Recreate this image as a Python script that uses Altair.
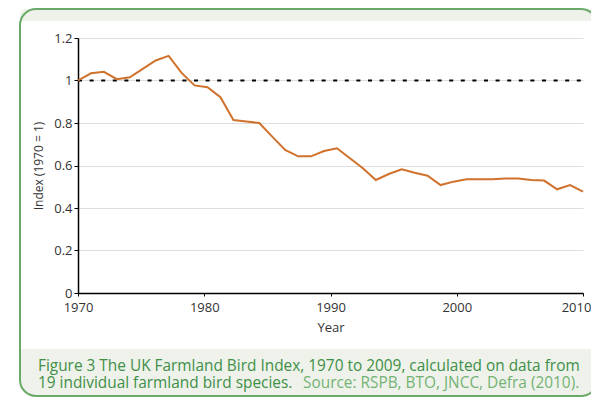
import altair as alt
import pandas as pd

years = list(range(1970, 2010))
index_values = [1.000, 1.034, 1.041, 1.006, 1.015, 1.055, 1.094, 1.116, 1.036, 0.977,
                0.968, 0.921, 0.814, 0.807, 0.800, 0.736, 0.673, 0.643, 0.643, 0.668,
                0.681, 0.634, 0.587, 0.532, 0.560, 0.582, 0.566, 0.552, 0.508, 0.524,
                0.535, 0.535, 0.535, 0.539, 0.539, 0.532, 0.529, 0.488, 0.508, 0.477]
axis_years = [1970, 2010]
baseline = [1.0, 1.0]
y_ticks = [0, 0.2, 0.4, 0.6, 0.8, 1.0, 1.2]
x_ticks = [1970, 1980, 1990, 2000, 2010]

caption_1 = "Figure 3 The UK Farmland Bird Index, 1970 to 2009, calculated on data from"
caption_2a = "19 individual farmland bird species."
caption_2b = "Source: RSPB, BTO, JNCC, Defra (2010)."

FONT = "Open Sans"
GREEN = "#6aa968"
BAND = "#eef2eb"
ORANGE = "#d0712c"

series = pd.DataFrame({"Year": years, "Index": index_values})
ref = pd.DataFrame({"Year": axis_years, "Index": baseline})
one = pd.DataFrame({"a": [0]})

y_scale = alt.Scale(domain=[0, 1.2], nice=False, zero=True)

top_band = alt.Chart(one).mark_rect(fill=BAND, cornerRadiusTopLeft=16,
                                     cornerRadiusTopRight=16).encode(
    x=alt.value(-58), x2=alt.value(519), y=alt.value(-29), y2=alt.value(-17))
bottom_band = alt.Chart(one).mark_rect(fill=BAND, cornerRadiusBottomLeft=16,
                                        cornerRadiusBottomRight=16).encode(
    x=alt.value(-58), x2=alt.value(519), y=alt.value(311), y2=alt.value(358))
frame_stroke = alt.Chart(one).mark_rect(fillOpacity=0, stroke=GREEN, strokeWidth=2,
                                         cornerRadius=16).encode(
    x=alt.value(-58), x2=alt.value(519), y=alt.value(-29), y2=alt.value(358))

rule = alt.Chart(ref).mark_line(color="black", strokeWidth=2, strokeDash=[4, 7.6]).encode(
    x=alt.X("Year:Q", scale=alt.Scale(domain=[1970, 2010], nice=False, zero=False),
            axis=alt.Axis(values=x_ticks, format="d", title="Year", grid=False,
                          domainColor="black", domainWidth=1.5, tickColor="black",
                          tickSize=3, labelFontSize=13, labelColor="#333",
                          labelPadding=5, labelFont=FONT, titleFont=FONT,
                          titleFontSize=13, titleFontWeight="normal", titleColor="#333",
                          titlePadding=7, labelFlush=False,
                          labelOffset={"condition": {"test": "datum.value == 2010",
                                                     "value": -7}, "value": 0})),
    y=alt.Y("Index:Q", scale=y_scale,
            axis=alt.Axis(values=y_ticks, format="~g", title="Index (1970 = 1)",
                          grid=True, gridColor="#dedede", gridWidth=1,
                          domainColor="black", domainWidth=1.5, tickColor="black",
                          tickSize=4, labelFontSize=13, labelColor="#333",
                          labelPadding=2, labelFont=FONT, titleFont=FONT,
                          titleFontSize=12, titleFontWeight="normal", titleColor="#333",
                          titlePadding=8)),
)

line = alt.Chart(series).mark_line(color=ORANGE, strokeWidth=2).encode(
    x=alt.X("Year:Q", scale=alt.Scale(domain=[1970, 2009], nice=False, zero=False),
            axis=None),
    y=alt.Y("Index:Q", scale=y_scale),
)

cap1 = alt.Chart(one).mark_text(text=caption_1, align="left", baseline="alphabetic",
                                font=FONT, fontSize=15.4, color="#3f8f47").encode(
    x=alt.value(-40), y=alt.value(333))
cap2a = alt.Chart(one).mark_text(text=caption_2a, align="left", baseline="alphabetic",
                                 font=FONT, fontSize=15.4, color="#3f8f47").encode(
    x=alt.value(-40), y=alt.value(350))
cap2b = alt.Chart(one).mark_text(text=caption_2b, align="left", baseline="alphabetic",
                                 font=FONT, fontSize=15.4, color="#74b274").encode(
    x=alt.value(225), y=alt.value(350))

chart = alt.layer(
    top_band, bottom_band, frame_stroke, rule, line, cap1, cap2a, cap2b
).resolve_scale(x="independent").properties(
    width=505, height=255,
    autosize=alt.AutoSizeParams(type="none"),
    padding={"left": 70, "top": 30, "right": 8, "bottom": 105},
).configure_view(stroke=None)

chart.save("out.html", embed_options={"renderer": "svg", "actions": False})
